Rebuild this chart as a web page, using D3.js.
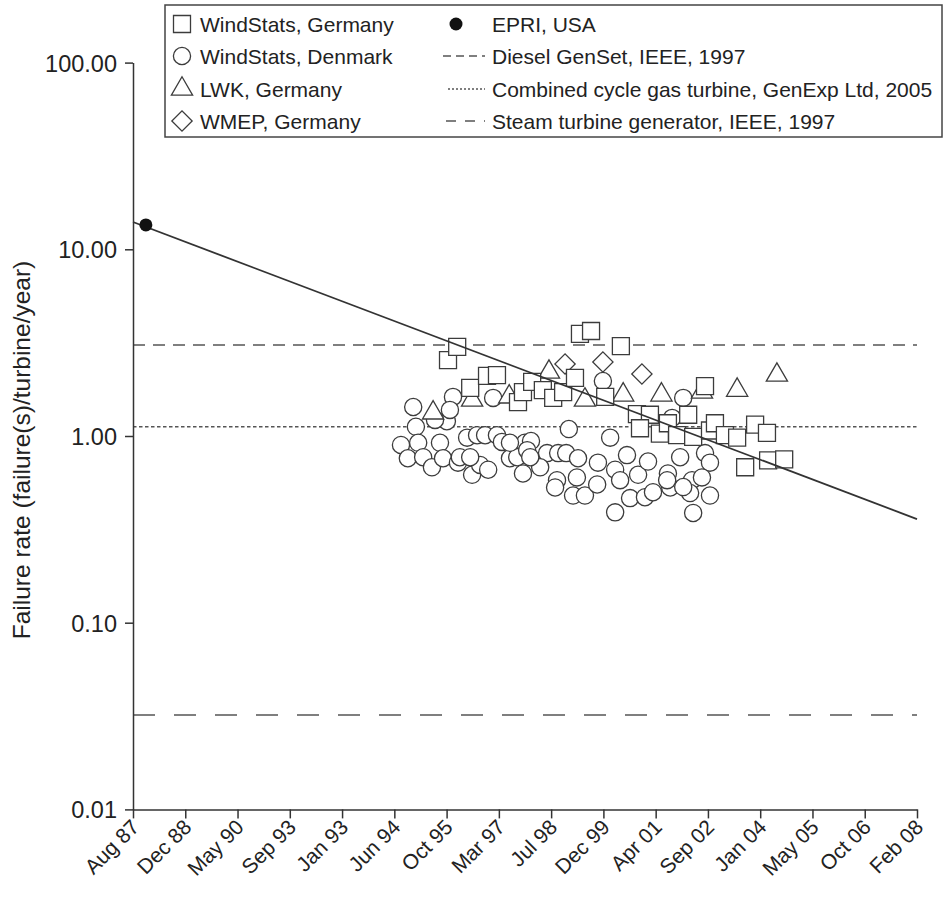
<!DOCTYPE html>
<html>
<head>
<meta charset="utf-8">
<script src="https://cdn.jsdelivr.net/npm/d3@7"></script>
<style>
  html, body { margin: 0; padding: 0; background: #fff; }
  svg text { font-family: "Liberation Sans", Arial, Helvetica, sans-serif; fill: #222; }
</style>
</head>
<body>
<svg id="chart" width="945" height="901"></svg>
<script>
// ---------------- DATA ----------------
const xTickLabels = ["Aug 87","Dec 88","May 90","Sep 93","Jan 93","Jun 94","Oct 95","Mar 97",
                     "Jul 98","Dec 99","Apr 01","Sep 02","Jan 04","May 05","Oct 06","Feb 08"];
const xStart = 1987.583, xEnd = 2008.083;          // Aug 87 .. Feb 08 (decimal years)
const yTickValues = [0.01, 0.1, 1, 10, 100];

// WindStats, Germany (squares): [year, failures/turbine/year]
const windStatsGermany = [
  [1995.82,2.55],[1996.06,3.00],[1996.40,1.81],[1996.84,2.10],[1997.10,2.12],[1997.65,1.52],
  [1997.78,1.72],[1998.02,1.95],[1998.30,1.76],[1998.57,1.60],[1998.83,1.72],[1999.14,2.05],
  [1999.27,3.52],[1999.56,3.65],[1999.93,1.62],[2000.34,3.03],[2000.76,1.31],[2001.10,1.30],
  [2000.84,1.10],[2001.36,1.03],[2001.57,1.17],[2001.81,1.01],[2002.10,1.30],[2002.23,0.99],
  [2002.54,1.85],[2002.67,1.07],[2002.80,1.17],[2003.06,1.01],[2003.38,0.98],[2003.59,0.68],
  [2003.85,1.15],[2004.16,1.04],[2004.19,0.74],[2004.61,0.75]
];
// WindStats, Denmark (circles)
const windStatsDenmark = [
  [1994.59,0.895],[1994.98,1.12],[1994.91,1.43],[1995.79,1.20],[1995.04,0.92],[1995.61,0.92],
  [1994.77,0.76],[1995.17,0.77],[1995.40,0.68],[1995.69,0.76],[1996.08,0.72],[1996.32,0.98],
  [1996.58,1.01],[1996.79,1.01],[1997.10,1.01],[1997.23,0.93],[1996.45,0.62],[1996.66,0.70],
  [1996.87,0.66],[1997.44,0.76],[1997.63,0.77],[1997.78,0.63],[1997.83,0.92],[1996.13,0.77],
  [1995.95,1.62],[1995.87,1.38],[1997.00,1.60],[1995.48,1.22],[1997.99,0.94],[1998.41,0.81],
  [1998.70,0.81],[1998.91,0.81],[1999.22,0.76],[1996.40,0.77],[1997.89,0.84],[1998.23,0.68],
  [1998.67,0.58],[1999.09,0.48],[1999.40,0.48],[1998.98,1.09],[1999.74,0.72],[2000.06,0.98],
  [2000.50,0.79],[2000.19,0.66],[1999.19,0.60],[1999.72,0.55],[1998.62,0.53],[2000.32,0.58],
  [2000.79,0.62],[2000.58,0.465],[2000.97,0.47],[2001.18,0.50],[2000.19,0.39],[1997.97,0.77],
  [2001.89,0.77],[2002.54,0.81],[2002.67,0.72],[2001.57,0.63],[2002.20,0.58],[2002.46,0.60],
  [2001.63,0.53],[2002.15,0.495],[2002.67,0.48],[2002.23,0.387],[2001.97,1.60],[2001.68,1.25],
  [1999.87,1.97],[2001.05,0.73],[1997.44,0.92],[2001.55,0.58],[2001.97,0.533]
];
// LWK, Germany (triangles)
const lwkGermany = [
  [1995.43,1.33],[1996.45,1.56],[1997.42,1.62],[1998.46,2.20],[1999.40,1.56],[2000.40,1.66],
  [2001.40,1.66],[2002.46,1.72],[2003.38,1.76],[2004.42,2.12]
];
// WMEP, Germany (diamonds)
const wmepGermany = [[1998.88,2.43],[1999.87,2.49],[2000.89,2.15]];
// EPRI, USA (filled circle)
const epriUSA = [[1987.92,13.5]];
// Trend line end points
const trendLine = [[1987.583,14.0],[2008.083,0.359]];
// Reference lines (failure rate)
const dieselGenSet = 3.07;
const ccgt = 1.12;
const steamTurbine = 0.032;

// ---------------- CHART ----------------
const svg = d3.select("#chart");
const plot = {left: 133, right: 917, top: 62.6, bottom: 809.4};
const x = d3.scaleLinear().domain([xStart, xEnd]).range([plot.left, plot.right]);
const y = d3.scaleLog().domain([0.01, 100]).range([plot.bottom, plot.top]);
const ink = "#333";
const mStroke = "#3c3c3c";

// Reference horizontal lines
const refs = [
  {v: dieselGenSet, dash: "12,8"},
  {v: ccgt, dash: "3.5,2.5"},
  {v: steamTurbine, dash: "22,19"}
];
svg.append("g").selectAll("line").data(refs).join("line")
  .attr("x1", plot.left).attr("x2", plot.right)
  .attr("y1", d => y(d.v)).attr("y2", d => y(d.v))
  .attr("stroke", "#555").attr("stroke-width", 1.5)
  .attr("stroke-dasharray", d => d.dash);

// Marker symbol generators (diamond = square turned 45 degrees)
const sym = {
  square: {gen: d3.symbol().type(d3.symbolSquare).size(17 * 17), rot: 0},
  circle: {gen: d3.symbol().type(d3.symbolCircle).size(Math.PI * 8.6 * 8.6), rot: 0},
  triangle: {gen: d3.symbol().type(d3.symbolTriangle).size(195), rot: 0},
  diamond: {gen: d3.symbol().type(d3.symbolSquare).size(205), rot: 45}
};
function drawMarkers(data, s) {
  svg.append("g").selectAll("path").data(data).join("path")
    .attr("d", s.gen())
    .attr("transform", d => `translate(${x(d[0])},${y(d[1])}) rotate(${s.rot})`)
    .attr("fill", "#fff").attr("stroke", mStroke).attr("stroke-width", 1.3);
}
drawMarkers(wmepGermany, sym.diamond);
drawMarkers(windStatsDenmark, sym.circle);
drawMarkers(lwkGermany, sym.triangle);
drawMarkers(windStatsGermany, sym.square);

// Trend line
svg.append("path").datum(trendLine)
  .attr("d", d3.line().x(d => x(d[0])).y(d => y(d[1])))
  .attr("fill", "none").attr("stroke", "#333").attr("stroke-width", 1.8);

// EPRI point
svg.append("g").selectAll("circle").data(epriUSA).join("circle")
  .attr("cx", d => x(d[0])).attr("cy", d => y(d[1])).attr("r", 6.5).attr("fill", "#111");

// Y axis
const yAxis = d3.axisLeft(y).tickValues(yTickValues).tickFormat(d3.format(".2f"))
  .tickSize(8).tickSizeOuter(0).tickPadding(8);
const gy = svg.append("g").attr("transform", `translate(${plot.left},0)`).call(yAxis);
gy.selectAll("text").style("font-size", "23.5px").attr("dy", "0.36em");
gy.selectAll("line, path").attr("stroke", ink).attr("stroke-width", 1.5);

// X axis
const step = (xEnd - xStart) / (xTickLabels.length - 1);
const xTicks = xTickLabels.map((_, i) => xStart + i * step);
const xAxis = d3.axisBottom(x).tickValues(xTicks)
  .tickFormat((d, i) => xTickLabels[i]).tickSize(9).tickSizeOuter(0);
const gx = svg.append("g").attr("transform", `translate(0,${plot.bottom})`).call(xAxis);
gx.selectAll("line, path").attr("stroke", ink).attr("stroke-width", 1.5);
gx.selectAll("text").style("font-size", "21px")
  .attr("text-anchor", "end")
  .attr("dy", null).attr("y", null)
  .attr("transform", "translate(7,19) rotate(-45)");

// Y axis label
svg.append("text")
  .attr("transform", `translate(30,450) rotate(-90)`)
  .attr("text-anchor", "middle").style("font-size", "24.5px")
  .text("Failure rate (failure(s)/turbine/year)");

// Legend
const lg = svg.append("g");
lg.append("rect").attr("x", 165).attr("y", 5).attr("width", 777).attr("height", 132)
  .attr("fill", "#fff").attr("stroke", "#444").attr("stroke-width", 1.5);
const rowY = [24, 56, 89, 121];
const col1 = [
  {t: "WindStats, Germany", s: sym.square},
  {t: "WindStats, Denmark", s: sym.circle},
  {t: "LWK, Germany", s: sym.triangle},
  {t: "WMEP, Germany", s: sym.diamond}
];
col1.forEach((c, i) => {
  lg.append("path").attr("d", c.s.gen())
    .attr("transform", `translate(182,${rowY[i]}) rotate(${c.s.rot})`)
    .attr("fill", "#fff").attr("stroke", mStroke).attr("stroke-width", 1.3);
  lg.append("text").attr("x", 200).attr("y", rowY[i]).attr("dy", "0.36em")
    .style("font-size", "21px").text(c.t);
});
lg.append("circle").attr("cx", 456).attr("cy", rowY[0]).attr("r", 6.5).attr("fill", "#111");
const col2 = [
  {t: "EPRI, USA"},
  {t: "Diesel GenSet, IEEE, 1997", dash: "8,5", x1: 443},
  {t: "Combined cycle gas turbine, GenExp Ltd, 2005", dash: "2,2", x1: 448},
  {t: "Steam turbine generator, IEEE, 1997", dash: "10,9", x1: 446}
];
col2.forEach((c, i) => {
  if (c.dash) {
    lg.append("line").attr("x1", c.x1).attr("x2", 485).attr("y1", rowY[i]).attr("y2", rowY[i])
      .attr("stroke", "#555").attr("stroke-width", 1.5).attr("stroke-dasharray", c.dash);
  }
  lg.append("text").attr("x", 492).attr("y", rowY[i]).attr("dy", "0.36em")
    .style("font-size", "21px").text(c.t);
});
</script>
</body>
</html>
